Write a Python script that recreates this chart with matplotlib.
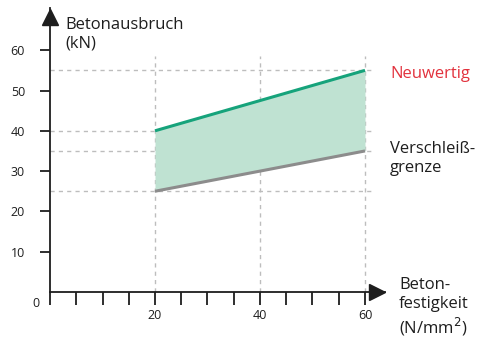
import matplotlib.pyplot as plt

plt.rcParams['font.family'] = ['Open Sans', 'DejaVu Sans']

# Betonfestigkeit (N/mm2) vs. Betonausbruch (kN)
festigkeit = [20, 60]
neuwertig = [40, 55]
verschleiss = [25, 35]

x_ticks = list(range(0, 61, 5))
x_ticklabels = ['' if t not in (20, 40, 60) else str(t) for t in x_ticks]
y_ticks = [10, 20, 30, 40, 50, 60]
h_guides = [55, 40, 35, 25]
v_guides = [20, 40, 60]

green = '#16a37b'
fill_green = '#bfe2d2'
grey_line = '#8c8c8c'
red = '#e2323d'
guide = '#bdbdbd'
ink = '#1e1e1e'

fig = plt.figure(figsize=(4.81, 3.38), dpi=100)
W, H = 481, 338
ax = fig.add_axes([50 / W, 46 / H, 335 / W, 284 / H])
ax.set_xlim(0, 335 / 5.25)
ax.set_ylim(0, 284 / 4.03)
ax.patch.set_alpha(0)

for y in h_guides:
    ax.plot([0, 62], [y, y], ls=(0, (3, 3)), color=guide, lw=1, zorder=1)
for x in v_guides:
    ax.plot([x, x], [0, 58.5], ls=(0, (3, 3)), color=guide, lw=1, zorder=1)

ax.fill_between(festigkeit, verschleiss, neuwertig, color=fill_green, lw=0, zorder=2)
ax.plot(festigkeit, neuwertig, color=green, lw=2.2, zorder=3, solid_capstyle='butt')
ax.plot(festigkeit, verschleiss, color=grey_line, lw=2.2, zorder=3, solid_capstyle='butt')

for s in ('top', 'right'):
    ax.spines[s].set_visible(False)
for s in ('left', 'bottom'):
    ax.spines[s].set_color(ink)
    ax.spines[s].set_linewidth(1.3)

ax.set_xticks(x_ticks, x_ticklabels)
ax.set_yticks(y_ticks, [str(v) for v in y_ticks])
ax.tick_params(axis='x', direction='out', length=9, width=1.3, color=ink,
               labelsize=9, labelcolor=ink, pad=3)
ax.tick_params(axis='y', direction='out', length=7, width=1.3, color=ink,
               labelsize=9, labelcolor=ink, pad=11)

# arrow heads on both axes
ax.plot([0], [ax.get_ylim()[1] - 2.3], marker='^', ms=11, color=ink, clip_on=False, zorder=5)
ax.plot([ax.get_xlim()[1] - 1.6], [0], marker='>', ms=11, color=ink, clip_on=False, zorder=5)

ax.text(-2.0, -1.3, '0', fontsize=9, color=ink, ha='right', va='top')
ax.text(3, 68.3, 'Betonausbruch\n(kN)', fontsize=12, color=ink, ha='left', va='top',
        linespacing=1.2)
ax.text(66.5, 3.6, 'Beton-\nfestigkeit\n(N/mm$^2$)', fontsize=12, color=ink, ha='left',
        va='top', linespacing=1.2, clip_on=False)
ax.text(64.8, 54.2, 'Neuwertig', fontsize=12, color=red, ha='left', va='center', clip_on=False)
ax.text(64.8, 37.4, 'Verschleiß-\ngrenze', fontsize=12, color=ink, ha='left', va='top',
        linespacing=1.2, clip_on=False)

fig.savefig('out.png', dpi=100)
